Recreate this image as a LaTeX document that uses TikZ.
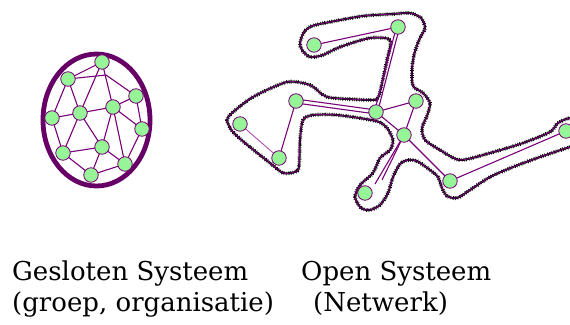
\documentclass[tikz,border=0pt]{standalone}
\usepackage{fontspec}
\setmainfont{DejaVu Serif}
\definecolor{ellcol}{RGB}{102,0,102}
\definecolor{edgecol}{RGB}{120,0,120}
\definecolor{lightedge}{RGB}{170,80,170}
\definecolor{nodegreen}{RGB}{150,245,150}
\pgfdeclarelayer{bg}
\pgfsetlayers{bg,main}
\tikzset{
  nd/.style={circle, minimum size=14.5pt, inner sep=0pt, fill=nodegreen, draw=edgecol, line width=0.8pt},
  edge/.style={draw=edgecol, line width=1.1pt},
  lightline/.style={draw=lightedge, line width=0.9pt},
  jag/.style={draw=black, line width=2pt},
  fuzz/.style={draw=black, line width=3.8pt, dash pattern=on 0.6pt off 1.3pt on 0.9pt off 2.1pt on 0.5pt off 1.6pt},
  rim/.style={draw=edgecol, line width=0.9pt},
  lbl/.style={anchor=base west, inner sep=0pt, font=\fontsize{26}{30}\selectfont}
}
\def\blobpts{(300,43) (304,32) (312,26) (330,22) (363,16) (393,14) (410,13) (421,18) (425,28)
(419,40) (414,55) (412,70) (413,86) (423,93) (430,103) (427,116) (422,128) (425,140)
(440,150) (460,160) (490,153) (523,143) (550,132) (558,123) (570,118) (580,122)
(580,145) (570,147) (540,157) (513,167) (490,177) (470,190) (457,198) (447,196)
(442,188) (438,177) (430,170) (417,161) (408,160) (400,164) (393,177) (388,193)
(380,205) (370,210) (361,208) (355,197) (360,185) (373,173) (380,158) (390,150)
(393,140) (387,128) (376,121) (337,115) (313,115) (303,120) (300,140) (299,167)
(295,172) (283,173) (270,163) (245,143) (232,131) (227,120) (232,113) (253,97)
(287,82) (310,85) (323,95) (333,98) (370,100) (378,98) (382,83) (387,60) (390,40)
(370,38) (340,47) (323,55) (310,57) (302,50)}
\begin{document}
\begin{tikzpicture}[x=1pt,y=-1pt]
\useasboundingbox (0,0) rectangle (570,324);
\clip (0,0) rectangle (570,324);
% closed system
\draw[ellcol, line width=4.8pt] (96.5,120) ellipse [x radius=53.5pt, y radius=66pt];
\node[nd] (N1) at (102,62) {};
\node[nd] (N2) at (68,79) {};
\node[nd] (N3) at (136,96) {};
\node[nd] (N4) at (113,107) {};
\node[nd] (N5) at (80,113) {};
\node[nd] (N6) at (52,118) {};
\node[nd] (N7) at (142,129) {};
\node[nd] (N8) at (102,147) {};
\node[nd] (N9) at (63,153) {};
\node[nd] (N10) at (125,164) {};
\node[nd] (N11) at (91,175) {};
\coordinate (jn) at (106,75);
\begin{pgfonlayer}{bg}
\draw[edge] (N1.center) -- (N2.center);
\draw[edge] (N1.center) -- (N4.center);
\draw[edge] (N1.center) -- (N5.center);
\draw[edge] (N2.center) -- (jn) -- (N3.center);
\draw[edge] (N2.center) -- (N5.center);
\draw[edge] (N2.center) -- (N6.center);
\draw[edge] (N5.center) -- (N4.center);
\draw[edge] (N5.center) -- (N6.center);
\draw[edge] (N4.center) -- (N3.center);
\draw[edge] (N3.center) -- (N7.center);
\draw[edge] (N4.center) -- (N7.center);
\draw[edge] (N5.center) -- (N8.center);
\draw[edge] (N5.center) -- (N9.center);
\draw[edge] (N6.center) -- (N9.center);
\draw[edge] (N4.center) -- (N8.center);
\draw[edge] (N4.center) -- (N10.center);
\draw[edge] (N9.center) -- (N8.center);
\draw[edge] (N8.center) -- (N10.center);
\draw[edge] (N8.center) -- (N11.center);
\draw[edge] (N9.center) -- (N11.center);
\draw[edge] (N11.center) -- (N10.center);
\draw[edge] (N7.center) -- (N10.center);
\end{pgfonlayer}
% open system outline
\begin{pgfonlayer}{bg}
\path[fuzz] plot[smooth cycle, tension=0.45] coordinates {\blobpts};
\path[jag] plot[smooth cycle, tension=0.45] coordinates {\blobpts};
\path[rim] plot[smooth cycle, tension=0.45] coordinates {\blobpts};
\end{pgfonlayer}
\node[nd] (A) at (314,45) {};
\node[nd] (B) at (398,27) {};
\node[nd] (C) at (296,101) {};
\node[nd] (D) at (240,124) {};
\node[nd] (E) at (279,158) {};
\node[nd] (F) at (376,112) {};
\node[nd] (G) at (416,101) {};
\node[nd] (H) at (404,135) {};
\node[nd] (I) at (365,193) {};
\node[nd] (J) at (450,181) {};
\node[nd] (K) at (566,131) {};
\coordinate (i1) at (375,184);
\coordinate (i2) at (382,180);
\begin{pgfonlayer}{bg}
\draw[edge] (A.center) -- (B.center);
\draw[edge] ([xshift=-1.6pt]B.center) -- ([xshift=-1.6pt]F.center);
\draw[edge] ([xshift=1.6pt]B.center) -- ([xshift=1.6pt]F.center);
\draw[edge] ([yshift=-2pt]C.center) -- ([yshift=-2pt]F.center);
\draw[edge] ([yshift=2pt]C.center) -- ([yshift=2pt]F.center);
\draw[edge] (C.center) -- (E.center);
\draw[lightline] (D.center) -- (E.center);
\draw[edge] (F.center) -- (G.center);
\draw[edge] (G.center) -- (H.center);
\draw[edge] (F.center) -- (H.center);
\draw[edge] (H.center) -- (i1);
\draw[edge] (H.center) -- (i2);
\draw[edge] (H.center) -- (J.center);
\draw[edge] (J.center) -- (K.center);
\end{pgfonlayer}
% labels
\node[lbl] (t1) at (12,280) {Gesloten Systeem};
\node[lbl] (t2) at (12,311) {(groep, organisatie)};
\node[lbl] (t3) at (301,280) {Open Systeem};
\node[lbl] (t4) at (313,311) {(Netwerk)};
\end{tikzpicture}
\end{document}
